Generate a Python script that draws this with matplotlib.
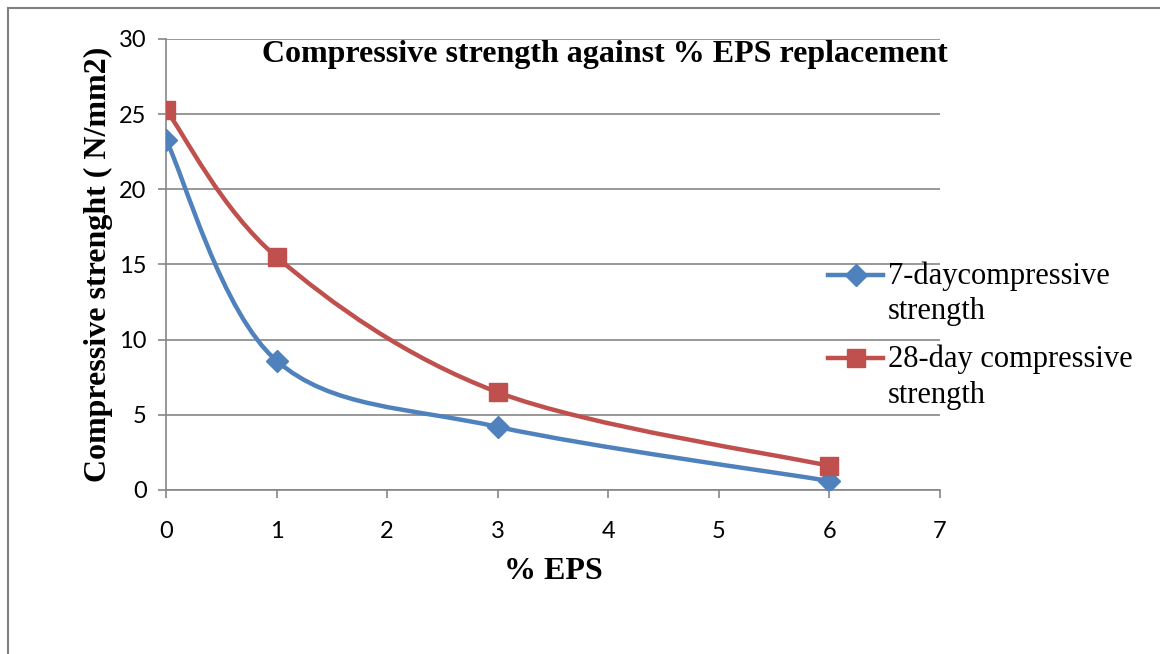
import matplotlib.pyplot as plt
from matplotlib.path import Path
from matplotlib.patches import PathPatch
from matplotlib.lines import Line2D
from matplotlib.legend_handler import HandlerLine2D

# Data
eps = [0, 1, 3, 6]
day7 = [23.3, 8.6, 4.2, 0.6]
day28 = [25.3, 15.5, 6.5, 1.6]
labels = ['7-daycompressive\nstrength', '28-day compressive\nstrength']

BLUE = '#4F81BD'
RED = '#C0504D'
GRID = '#868686'
SERIF = 'Liberation Serif'


def smooth_path(xs, ys):
    # Excel-style smoothed line: Catmull-Rom converted to cubic Bezier
    pts = list(zip(xs, ys))
    ext = [pts[0]] + pts + [pts[-1]]
    verts = [pts[0]]
    codes = [Path.MOVETO]
    for i in range(1, len(ext) - 2):
        p0, p1, p2, p3 = ext[i - 1], ext[i], ext[i + 1], ext[i + 2]
        c1 = (p1[0] + (p2[0] - p0[0]) / 6, p1[1] + (p2[1] - p0[1]) / 6)
        c2 = (p2[0] - (p3[0] - p1[0]) / 6, p2[1] - (p3[1] - p1[1]) / 6)
        verts += [c1, c2, p2]
        codes += [Path.CURVE4] * 3
    return Path(verts, codes)


class FirstLineHandler(HandlerLine2D):
    # put the legend key next to the first line of a two-line label
    def create_artists(self, legend, orig_handle, xdescent, ydescent,
                       width, height, fontsize, trans):
        arts = super().create_artists(legend, orig_handle, xdescent, ydescent,
                                      width, height, fontsize, trans)
        for a in arts:
            a.set_ydata([y + 14 for y in a.get_ydata()])
        return arts


fig = plt.figure(figsize=(11.6, 6.54), dpi=100)
ax = fig.add_axes([0.1431, 0.2508, 0.6672, 0.6896])

for ys, col, mk, ms in [(day7, BLUE, 'D', 11), (day28, RED, 's', 13)]:
    ax.add_patch(PathPatch(smooth_path(eps, ys), facecolor='none', edgecolor=col,
                           lw=3.2, capstyle='round', zorder=3))
    ax.plot(eps, ys, linestyle='none', marker=mk, markersize=ms, color=col, zorder=4)

ax.set_xlim(0, 7)
ax.set_ylim(0, 30)
ax.set_xticks(range(0, 8))
ax.set_yticks(range(0, 31, 5))
ax.grid(axis='y', color=GRID, lw=1.2)
ax.set_axisbelow(True)
for s in ['top', 'right']:
    ax.spines[s].set_visible(False)
for s in ['left', 'bottom']:
    ax.spines[s].set_color(GRID)
    ax.spines[s].set_linewidth(1.2)
ax.tick_params(colors=GRID, width=1.2, length=6, labelcolor='black',
               labelsize=17)
ax.tick_params(axis='x', pad=16)
ax.tick_params(axis='y', pad=8)
for lbl in ax.get_xticklabels() + ax.get_yticklabels():
    lbl.set_family('Lato')

ax.set_xlabel('% EPS', family=SERIF, weight='bold', fontsize=23, labelpad=11)
ax.set_ylabel('Compressive strenght ( N/mm2)', family=SERIF, weight='bold',
              fontsize=23, labelpad=4)
ax.text(0.567, 0.965, 'Compressive strength against % EPS replacement',
        transform=ax.transAxes, ha='center', va='center', family=SERIF,
        weight='bold', fontsize=23)

handles = [Line2D([], [], color=BLUE, lw=3.2, marker='D', markersize=11),
           Line2D([], [], color=RED, lw=3.2, marker='s', markersize=13)]
leg = fig.legend(handles, labels, loc='center left', bbox_to_anchor=(0.714, 0.487),
                 frameon=False, prop={'family': SERIF, 'size': 22}, borderpad=0,
                 handlelength=1.8, handletextpad=0.15, labelspacing=0.6,
                 borderaxespad=0, handler_map={Line2D: FirstLineHandler()})
for t in leg.get_texts():
    t.set_linespacing(1.3)

# outer frame of the embedded chart
fig.add_artist(Line2D([8 / 1160, 8 / 1160], [0, 1 - 8 / 654],
                      transform=fig.transFigure, color='#808080', lw=1.5))
fig.add_artist(Line2D([8 / 1160, 1], [1 - 8 / 654, 1 - 8 / 654],
                      transform=fig.transFigure, color='#808080', lw=1.5))

fig.savefig('out.png', dpi=100)
